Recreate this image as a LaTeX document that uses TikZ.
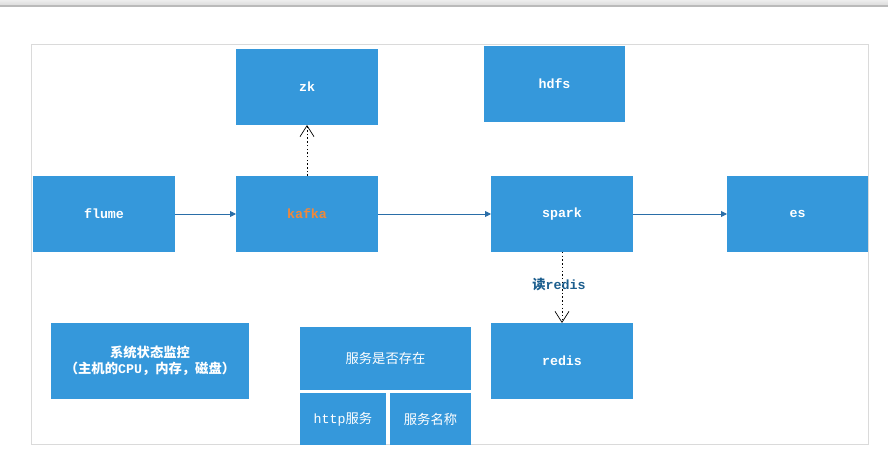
\documentclass[tikz,border=0pt]{standalone}
\usepackage{fontspec}
\setmonofont{Liberation Mono}
\newfontfamily\cjk{Noto Sans CJK SC}
\usetikzlibrary{arrows.meta}
\definecolor{boxblue}{HTML}{3598DB}
\definecolor{arrowblue}{HTML}{2A6EA8}
\definecolor{kafkaorange}{HTML}{F0883A}
\definecolor{labelblue}{HTML}{1C5E8E}
\definecolor{framegray}{HTML}{DADADA}
\begin{document}
\begin{tikzpicture}[x=1pt,y=-1pt,
  blk/.style={fill=boxblue,draw=none,text=white,font=\fontsize{13.3}{16}\selectfont,align=center},
  flow/.style={draw=arrowblue,line width=0.9pt,-{Triangle[length=6pt,width=6pt]}},
  dotarrow/.style={draw=black,line width=0.9pt,dash pattern=on 1.5pt off 2.2pt,-{Straight Barb[length=11pt,width=14pt,line width=0.7pt]}}]
\useasboundingbox (0,0) rectangle (888,470);
% top bar
\shade[top color=white!93!black,bottom color=white!85!black] (0,0) rectangle (888,6);
\fill[white!73!black] (0,5.5) rectangle (888,7.5);
% frame
\draw[framegray,line width=1pt] (31.5,44.5) rectangle (868.5,444.5);
% boxes
\path[blk] (236,49) rectangle (378,125) node[midway] (zk) {\ttfamily\bfseries zk};
\path[blk] (484,46) rectangle (625,122) node[midway] (hdfs) {\ttfamily\bfseries hdfs};
\path[blk] (33,176) rectangle (175,252) node[midway] (flume) {\ttfamily\bfseries flume};
\path[blk] (236,176) rectangle (378,252) node[midway,text=kafkaorange] (kafka) {\ttfamily\bfseries kafka};
\path[blk] (491,176) rectangle (633,252) node[midway] (spark) {\ttfamily\bfseries spark};
\path[blk] (727,176) rectangle (868,252) node[midway] (es) {\ttfamily\bfseries es};
\path[blk] (491,323) rectangle (633,399) node[midway] (redis) {\ttfamily\bfseries redis};
\path[blk] (51,323) rectangle (249,399) node[midway] (mon) {\cjk\bfseries 系统状态监控\\{\cjk\bfseries （主机的}{\ttfamily\bfseries CPU}{\cjk\bfseries ，内存，磁盘）}};
\path[blk] (300,327) rectangle (471,390) node[midway] (svc) {\cjk 服务是否存在};
\path[blk] (300,393) rectangle (386,445) node[midway] (http) {{\ttfamily http}{\cjk 服务}};
\path[blk] (390,393) rectangle (471,445) node[midway] (name) {\cjk 服务名称};
% anchors for connectors
\coordinate (flumeR) at (175,214);
\coordinate (kafkaL) at (236,214);
\coordinate (kafkaR) at (378,214);
\coordinate (sparkL) at (491,214);
\coordinate (sparkR) at (633,214);
\coordinate (esL) at (727,214);
\coordinate (kafkaT) at (307,176);
\coordinate (zkB) at (307,125);
\coordinate (sparkB) at (562,252);
\coordinate (redisT) at (562,323);
\draw[flow] (flumeR) -- (kafkaL);
\draw[flow] (kafkaR) -- (sparkL);
\draw[flow] (sparkR) -- (esL);
\draw[dotarrow] (kafkaT) -- (zkB);
\draw[dotarrow] (sparkB) -- (redisT);
\node[text=labelblue,font=\fontsize{13.3}{16}\selectfont] (lbl) at (559,284) {{\cjk\bfseries 读}{\ttfamily\bfseries redis}};
\end{tikzpicture}
\end{document}
